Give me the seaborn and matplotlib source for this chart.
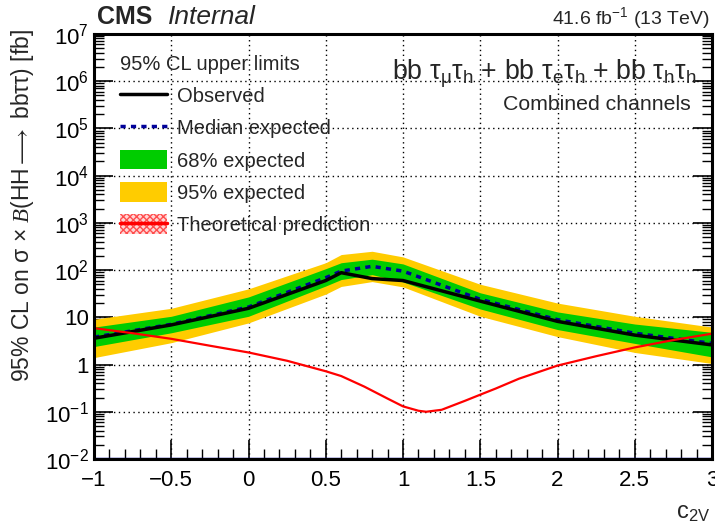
import numpy as np
import pandas as pd
import matplotlib
matplotlib.use("Agg")
import matplotlib.pyplot as plt
import seaborn as sns
from matplotlib.lines import Line2D
from matplotlib.patches import Patch
from matplotlib.ticker import FixedLocator, FixedFormatter, LogLocator, NullFormatter, MultipleLocator

sns.set_theme(style="ticks")
plt.rcParams.update({
    "font.family": ["Liberation Sans", "DejaVu Sans"],
    "mathtext.fontset": "custom",
    "mathtext.rm": "Liberation Sans",
    "mathtext.it": "Liberation Serif:italic",
    "mathtext.bf": "Liberation Sans:bold",
    "mathtext.default": "regular",
    "mathtext.fallback": "stixsans",
})

# scan points in c2V
c2v = [-1, -0.5, 0, 0.5, 0.6, 0.8, 1, 1.5, 2, 2.5, 3]
observed = [3.6, 6.9, 15.5, 60, 88, 66, 60, 22, 8.2, 4.2, 2.6]
exp_median = [3.8, 7.1, 16.5, 69, 95, 120, 95, 24, 8.9, 4.6, 2.8]
exp68_lo = [2.4, 4.7, 10.5, 46, 63, 80, 56, 15, 5.5, 2.8, 1.45]
exp68_hi = [6.2, 10.5, 27, 107, 143, 170, 135, 33, 13, 7.2, 4.8]
exp95_lo = [1.4, 2.9, 7.6, 31, 45, 57, 44, 10.5, 3.9, 1.8, 1.05]
exp95_hi = [9.1, 15.5, 40, 143, 213, 250, 190, 50, 20, 10.5, 6.2]

# theory curve
theo_c2v = [-1, -0.75, -0.5, -0.25, 0, 0.25, 0.5, 0.6, 0.75, 0.9, 1, 1.1, 1.15,
            1.25, 1.4, 1.5, 1.6, 1.75, 2, 2.25, 2.5, 2.75, 3]
theo_xs = [5.9, 4.6, 3.5, 2.5, 1.8, 1.2, 0.72, 0.57, 0.34, 0.19, 0.13, 0.105,
           0.1, 0.11, 0.17, 0.23, 0.31, 0.5, 0.95, 1.5, 2.3, 3.3, 4.5]

ytick_vals = [1e-2, 1e-1, 1, 10, 1e2, 1e3, 1e4, 1e5, 1e6, 1e7]
ytick_labels = [r"$10^{-2}$", r"$10^{-1}$", "1", "10", r"$10^{2}$", r"$10^{3}$",
                r"$10^{4}$", r"$10^{5}$", r"$10^{6}$", r"$10^{7}$"]
xtick_vals = [-1, -0.5, 0, 0.5, 1, 1.5, 2, 2.5, 3]
xtick_labels = ["\u22121", "\u22120.5", "0", "0.5", "1", "1.5", "2", "2.5", "3"]

GREEN = "#00cc00"
YELLOW = "#ffcc00"
NAVY = "#000099"

df = pd.DataFrame({"c2v": c2v, "obs": observed, "exp": exp_median})
df_th = pd.DataFrame({"c2v": theo_c2v, "xs": theo_xs})

fig = plt.figure(figsize=(7.15, 5.30), dpi=100)
ax = fig.add_axes([0.1315, 0.134, 0.8643, 0.802])

ax.fill_between(c2v, exp95_lo, exp95_hi, color=YELLOW, lw=0, zorder=2)
ax.fill_between(c2v, exp68_lo, exp68_hi, color=GREEN, lw=0, zorder=3)
sns.lineplot(data=df, x="c2v", y="exp", color=NAVY, lw=2.5,
             linestyle=(0, (1.5, 1.5)), ax=ax, zorder=4)
sns.lineplot(data=df, x="c2v", y="obs", color="black", lw=2.5, ax=ax, zorder=5)
sns.lineplot(data=df_th, x="c2v", y="xs", color="red", lw=1.6, ax=ax, zorder=6)
ax.axhline(1e-2, color=NAVY, lw=2.5, zorder=1)

ax.set_yscale("log")
ax.set_xlim(-1, 3)
ax.set_ylim(1e-2, 1e7)

ax.yaxis.set_major_locator(FixedLocator(ytick_vals))
ax.yaxis.set_major_formatter(FixedFormatter(ytick_labels))
ax.yaxis.set_minor_locator(LogLocator(base=10, subs=np.arange(2, 10), numticks=30))
ax.yaxis.set_minor_formatter(NullFormatter())
ax.xaxis.set_major_locator(FixedLocator(xtick_vals))
ax.xaxis.set_major_formatter(FixedFormatter(xtick_labels))
ax.xaxis.set_minor_locator(MultipleLocator(0.1))

ax.tick_params(axis="both", which="both", direction="in", colors="black",
               labelsize=16, right=True, top=False)
ax.tick_params(axis="y", which="major", length=14, width=1.2)
ax.tick_params(axis="y", which="minor", length=7, width=1.0)
ax.tick_params(axis="x", which="major", length=14, width=1.2, pad=8)
ax.tick_params(axis="x", which="minor", length=7, width=1.0)

ax.grid(True, which="major", color="black", linestyle=(0, (1, 2.5)), lw=1.0)
for sp in ax.spines.values():
    sp.set_linewidth(2.2)
    sp.set_color("black")
    sp.set_zorder(10)

ax.set_xlabel("")
ax.set_ylabel("")
# y title, centred where the reference has it
fig.text(0.031, 0.613,
         r"95% CL on $\sigma$ $\times$ $\mathit{B}$(HH${\longrightarrow}$ bb$\tau\tau$) [fb]",
         fontsize=16.5, rotation=90, ha="center", va="center")
fig.text(0.993, 0.022, r"c$_{2V}$", fontsize=17, ha="right", va="baseline")

fig.text(0.136, 0.955, "CMS", fontsize=18, fontweight="bold", ha="left", va="baseline")
fig.text(0.235, 0.955, "Internal", fontsize=19, style="italic", ha="left", va="baseline")
fig.text(0.993, 0.955, r"41.6 fb$^{-1}$ (13 TeV)", fontsize=14, ha="right", va="baseline")

ax.text(0.975, 0.892, r"bb $\tau_{\mu}\tau_{h}$ + bb $\tau_{e}\tau_{h}$ + bb $\tau_{h}\tau_{h}$",
        transform=ax.transAxes, fontsize=19.3, ha="right", va="baseline")
ax.text(0.966, 0.822, "Combined channels", transform=ax.transAxes,
        fontsize=15.3, ha="right", va="baseline")

handles = [
    Line2D([], [], color="black", lw=2.5),
    Line2D([], [], color=NAVY, lw=2.5, linestyle=(0, (1.5, 1.5))),
    Patch(facecolor=GREEN, lw=0),
    Patch(facecolor=YELLOW, lw=0),
    (Patch(facecolor="#ffd6d6", edgecolor="#ff4d4d", hatch="xxxxx", lw=0),
     Line2D([], [], color="red", lw=2.5)),
]
labels = ["Observed", "Median expected", "68% expected", "95% expected",
          "Theoretical prediction"]
leg = ax.legend(handles, labels, loc="upper left", bbox_to_anchor=(0.012, 0.993),
                frameon=False, fontsize=14.5, title="95% CL upper limits",
                title_fontsize=14.5, alignment="left", handlelength=2.35,
                handleheight=1.1, labelspacing=0.58, handletextpad=0.5)
leg.set_zorder(20)

fig.savefig("out.png", dpi=100, facecolor="white")
